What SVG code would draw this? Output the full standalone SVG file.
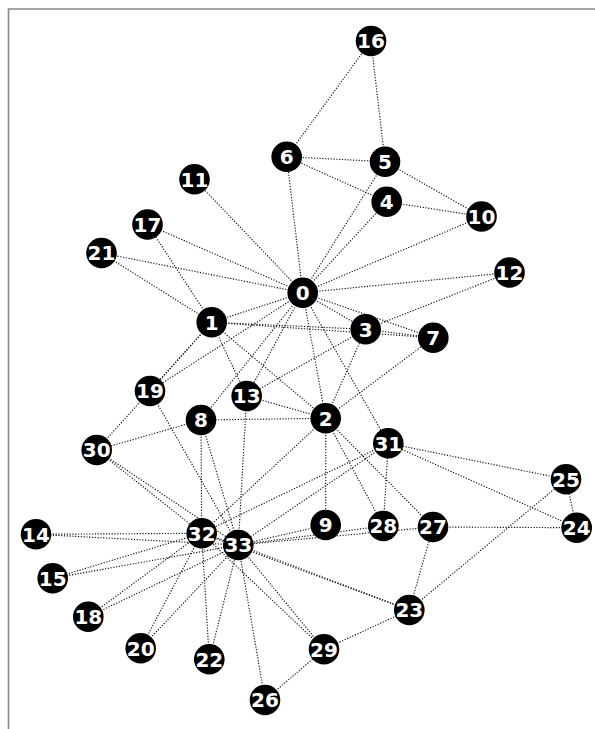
<svg xmlns="http://www.w3.org/2000/svg" width="595" height="729" viewBox="0 0 595 729">
<style>
.e{stroke:#111;stroke-width:1.15;stroke-dasharray:1.2 1.6;fill:none}
.n circle{fill:#000}
.n text{fill:#fff;font-family:"DejaVu Sans",sans-serif;font-weight:bold;font-size:20px;text-anchor:middle}
</style>
<rect width="595" height="729" fill="#fff"/>
<path d="M8.5 729V9H595" fill="none" stroke="#888" stroke-width="1.6"/>
<g id="edges">
<line class="e" x1="302.7" y1="292.7" x2="211.7" y2="322.3"/>
<line class="e" x1="302.7" y1="292.7" x2="325.7" y2="418.3"/>
<line class="e" x1="302.7" y1="292.7" x2="365.7" y2="329.3"/>
<line class="e" x1="302.7" y1="292.7" x2="386.7" y2="201.7"/>
<line class="e" x1="302.7" y1="292.7" x2="385" y2="161.7"/>
<line class="e" x1="302.7" y1="292.7" x2="286.7" y2="156.7"/>
<line class="e" x1="302.7" y1="292.7" x2="433.3" y2="337.7"/>
<line class="e" x1="302.7" y1="292.7" x2="201" y2="420"/>
<line class="e" x1="302.7" y1="292.7" x2="481.5" y2="216.5"/>
<line class="e" x1="302.7" y1="292.7" x2="194.5" y2="179.3"/>
<line class="e" x1="302.7" y1="292.7" x2="509.5" y2="272.5"/>
<line class="e" x1="302.7" y1="292.7" x2="246.7" y2="396"/>
<line class="e" x1="302.7" y1="292.7" x2="147.5" y2="224.5"/>
<line class="e" x1="302.7" y1="292.7" x2="150" y2="391"/>
<line class="e" x1="302.7" y1="292.7" x2="101.5" y2="253"/>
<line class="e" x1="302.7" y1="292.7" x2="388.3" y2="443.3"/>
<line class="e" x1="211.7" y1="322.3" x2="325.7" y2="418.3"/>
<line class="e" x1="211.7" y1="322.3" x2="365.7" y2="329.3"/>
<line class="e" x1="211.7" y1="322.3" x2="433.3" y2="337.7"/>
<line class="e" x1="211.7" y1="322.3" x2="246.7" y2="396"/>
<line class="e" x1="211.7" y1="322.3" x2="147.5" y2="224.5"/>
<line class="e" x1="211.7" y1="322.3" x2="150" y2="391"/>
<line class="e" x1="211.7" y1="322.3" x2="101.5" y2="253"/>
<line class="e" x1="211.7" y1="322.3" x2="96.7" y2="450"/>
<line class="e" x1="325.7" y1="418.3" x2="365.7" y2="329.3"/>
<line class="e" x1="325.7" y1="418.3" x2="433.3" y2="337.7"/>
<line class="e" x1="325.7" y1="418.3" x2="201" y2="420"/>
<line class="e" x1="325.7" y1="418.3" x2="325.7" y2="525"/>
<line class="e" x1="325.7" y1="418.3" x2="246.7" y2="396"/>
<line class="e" x1="325.7" y1="418.3" x2="433" y2="527"/>
<line class="e" x1="325.7" y1="418.3" x2="383.3" y2="526"/>
<line class="e" x1="325.7" y1="418.3" x2="201.7" y2="533.3"/>
<line class="e" x1="365.7" y1="329.3" x2="433.3" y2="337.7"/>
<line class="e" x1="365.7" y1="329.3" x2="509.5" y2="272.5"/>
<line class="e" x1="365.7" y1="329.3" x2="246.7" y2="396"/>
<line class="e" x1="386.7" y1="201.7" x2="286.7" y2="156.7"/>
<line class="e" x1="386.7" y1="201.7" x2="481.5" y2="216.5"/>
<line class="e" x1="385" y1="161.7" x2="286.7" y2="156.7"/>
<line class="e" x1="385" y1="161.7" x2="481.5" y2="216.5"/>
<line class="e" x1="385" y1="161.7" x2="371" y2="41"/>
<line class="e" x1="286.7" y1="156.7" x2="371" y2="41"/>
<line class="e" x1="201" y1="420" x2="96.7" y2="450"/>
<line class="e" x1="201" y1="420" x2="201.7" y2="533.3"/>
<line class="e" x1="201" y1="420" x2="238.3" y2="545"/>
<line class="e" x1="325.7" y1="525" x2="238.3" y2="545"/>
<line class="e" x1="246.7" y1="396" x2="238.3" y2="545"/>
<line class="e" x1="36" y1="534.3" x2="201.7" y2="533.3"/>
<line class="e" x1="36" y1="534.3" x2="238.3" y2="545"/>
<line class="e" x1="52.7" y1="578.3" x2="201.7" y2="533.3"/>
<line class="e" x1="52.7" y1="578.3" x2="238.3" y2="545"/>
<line class="e" x1="88.3" y1="616.7" x2="201.7" y2="533.3"/>
<line class="e" x1="88.3" y1="616.7" x2="238.3" y2="545"/>
<line class="e" x1="150" y1="391" x2="238.3" y2="545"/>
<line class="e" x1="140.7" y1="648.3" x2="201.7" y2="533.3"/>
<line class="e" x1="140.7" y1="648.3" x2="238.3" y2="545"/>
<line class="e" x1="209.3" y1="659.3" x2="201.7" y2="533.3"/>
<line class="e" x1="209.3" y1="659.3" x2="238.3" y2="545"/>
<line class="e" x1="409.3" y1="610" x2="566" y2="479.3"/>
<line class="e" x1="409.3" y1="610" x2="433" y2="527"/>
<line class="e" x1="409.3" y1="610" x2="324" y2="649.3"/>
<line class="e" x1="409.3" y1="610" x2="201.7" y2="533.3"/>
<line class="e" x1="409.3" y1="610" x2="238.3" y2="545"/>
<line class="e" x1="576.7" y1="527.7" x2="566" y2="479.3"/>
<line class="e" x1="576.7" y1="527.7" x2="433" y2="527"/>
<line class="e" x1="576.7" y1="527.7" x2="388.3" y2="443.3"/>
<line class="e" x1="566" y1="479.3" x2="388.3" y2="443.3"/>
<line class="e" x1="265" y1="700" x2="324" y2="649.3"/>
<line class="e" x1="265" y1="700" x2="238.3" y2="545"/>
<line class="e" x1="433" y1="527" x2="238.3" y2="545"/>
<line class="e" x1="383.3" y1="526" x2="388.3" y2="443.3"/>
<line class="e" x1="383.3" y1="526" x2="238.3" y2="545"/>
<line class="e" x1="324" y1="649.3" x2="201.7" y2="533.3"/>
<line class="e" x1="324" y1="649.3" x2="238.3" y2="545"/>
<line class="e" x1="96.7" y1="450" x2="201.7" y2="533.3"/>
<line class="e" x1="96.7" y1="450" x2="238.3" y2="545"/>
<line class="e" x1="388.3" y1="443.3" x2="201.7" y2="533.3"/>
<line class="e" x1="388.3" y1="443.3" x2="238.3" y2="545"/>
<line class="e" x1="201.7" y1="533.3" x2="238.3" y2="545"/>
</g>
<g id="n0" class="n"><circle cx="302.7" cy="292.7" r="15.3"/><text x="302.7" y="300">0</text></g>
<g id="n1" class="n"><circle cx="211.7" cy="322.3" r="15.3"/><text x="211.7" y="329.6">1</text></g>
<g id="n2" class="n"><circle cx="325.7" cy="418.3" r="15.3"/><text x="325.7" y="425.6">2</text></g>
<g id="n3" class="n"><circle cx="365.7" cy="329.3" r="15.3"/><text x="365.7" y="336.6">3</text></g>
<g id="n4" class="n"><circle cx="386.7" cy="201.7" r="15.3"/><text x="386.7" y="209">4</text></g>
<g id="n5" class="n"><circle cx="385" cy="161.7" r="15.3"/><text x="385" y="169">5</text></g>
<g id="n6" class="n"><circle cx="286.7" cy="156.7" r="15.3"/><text x="286.7" y="164">6</text></g>
<g id="n7" class="n"><circle cx="433.3" cy="337.7" r="15.3"/><text x="433.3" y="345">7</text></g>
<g id="n8" class="n"><circle cx="201" cy="420" r="15.3"/><text x="201" y="427.3">8</text></g>
<g id="n9" class="n"><circle cx="325.7" cy="525" r="15.3"/><text x="325.7" y="532.3">9</text></g>
<g id="n10" class="n"><circle cx="481.5" cy="216.5" r="15.3"/><text x="481.5" y="223.8">10</text></g>
<g id="n11" class="n"><circle cx="194.5" cy="179.3" r="15.3"/><text x="194.5" y="186.6">11</text></g>
<g id="n12" class="n"><circle cx="509.5" cy="272.5" r="15.3"/><text x="509.5" y="279.8">12</text></g>
<g id="n13" class="n"><circle cx="246.7" cy="396" r="15.3"/><text x="246.7" y="403.3">13</text></g>
<g id="n14" class="n"><circle cx="36" cy="534.3" r="15.3"/><text x="36" y="541.6">14</text></g>
<g id="n15" class="n"><circle cx="52.7" cy="578.3" r="15.3"/><text x="52.7" y="585.6">15</text></g>
<g id="n16" class="n"><circle cx="371" cy="41" r="15.3"/><text x="371" y="48.3">16</text></g>
<g id="n17" class="n"><circle cx="147.5" cy="224.5" r="15.3"/><text x="147.5" y="231.8">17</text></g>
<g id="n18" class="n"><circle cx="88.3" cy="616.7" r="15.3"/><text x="88.3" y="624">18</text></g>
<g id="n19" class="n"><circle cx="150" cy="391" r="15.3"/><text x="150" y="398.3">19</text></g>
<g id="n20" class="n"><circle cx="140.7" cy="648.3" r="15.3"/><text x="140.7" y="655.6">20</text></g>
<g id="n21" class="n"><circle cx="101.5" cy="253" r="15.3"/><text x="101.5" y="260.3">21</text></g>
<g id="n22" class="n"><circle cx="209.3" cy="659.3" r="15.3"/><text x="209.3" y="666.6">22</text></g>
<g id="n23" class="n"><circle cx="409.3" cy="610" r="15.3"/><text x="409.3" y="617.3">23</text></g>
<g id="n24" class="n"><circle cx="576.7" cy="527.7" r="15.3"/><text x="576.7" y="535">24</text></g>
<g id="n25" class="n"><circle cx="566" cy="479.3" r="15.3"/><text x="566" y="486.6">25</text></g>
<g id="n26" class="n"><circle cx="265" cy="700" r="15.3"/><text x="265" y="707.3">26</text></g>
<g id="n27" class="n"><circle cx="433" cy="527" r="15.3"/><text x="433" y="534.3">27</text></g>
<g id="n28" class="n"><circle cx="383.3" cy="526" r="15.3"/><text x="383.3" y="533.3">28</text></g>
<g id="n29" class="n"><circle cx="324" cy="649.3" r="15.3"/><text x="324" y="656.6">29</text></g>
<g id="n30" class="n"><circle cx="96.7" cy="450" r="15.3"/><text x="96.7" y="457.3">30</text></g>
<g id="n31" class="n"><circle cx="388.3" cy="443.3" r="15.3"/><text x="388.3" y="450.6">31</text></g>
<g id="n32" class="n"><circle cx="201.7" cy="533.3" r="15.3"/><text x="201.7" y="540.6">32</text></g>
<g id="n33" class="n"><circle cx="238.3" cy="545" r="15.3"/><text x="238.3" y="552.3">33</text></g>
</svg>
